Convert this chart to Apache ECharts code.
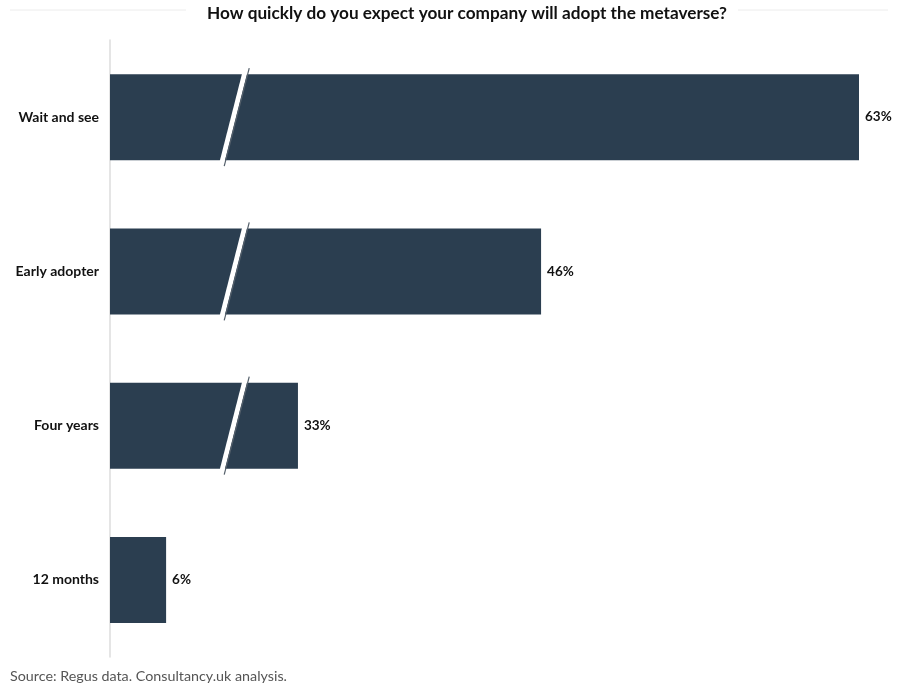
<!DOCTYPE html>
<html>
<head>
<meta charset="utf-8">
<script src="https://cdn.jsdelivr.net/npm/echarts@6/dist/echarts.min.js"></script>
<style>
html,body{margin:0;padding:0;background:#fff;}
#chart{width:900px;height:691px;}
</style>
</head>
<body>
<div id="chart"></div>
<script>
const TITLE = 'How quickly do you expect your company will adopt the metaverse?';
const SOURCE = 'Source: Regus data. Consultancy.uk analysis.';
const categories = ['Wait and see', 'Early adopter', 'Four years', '12 months'];
const values = [63, 46, 33, 6];
const AXIS_MIN = 3;
const AXIS_MAX = 63;
const BREAK_START = 9.6;
const BREAK_END = 29.55;

const BAR_COLOR = '#2b3e50';
const FONT = 'Lato';

const slashData = [];
values.forEach(function (v, i) { if (v > BREAK_END) slashData.push([BREAK_START, i]); });

const chart = echarts.init(document.getElementById('chart'), null, {renderer: 'canvas'});
chart.setOption({
  animation: false,
  backgroundColor: '#ffffff',
  title: {
    text: TITLE,
    left: 202,
    top: 0,
    textStyle: {fontFamily: FONT, fontWeight: 'bold', fontSize: 17.2, color: '#111'}
  },
  graphic: [
    {type: 'line', shape: {x1: 10, y1: 10, x2: 186, y2: 10}, style: {stroke: '#ececec', lineWidth: 1}},
    {type: 'line', shape: {x1: 738, y1: 10, x2: 888, y2: 10}, style: {stroke: '#ececec', lineWidth: 1}},
    {type: 'text', left: 10, top: 669, style: {text: SOURCE, fontFamily: FONT, fontSize: 14.3, fill: '#555'}}
  ],
  grid: {left: 110, right: 41, top: 40, bottom: 34, containLabel: false},
  xAxis: {
    type: 'value',
    min: AXIS_MIN,
    max: AXIS_MAX,
    breaks: [{start: BREAK_START, end: BREAK_END, gap: 0}],
    breakArea: {show: false},
    axisLine: {show: false},
    axisTick: {show: false},
    axisLabel: {show: false},
    splitLine: {show: false}
  },
  yAxis: {
    type: 'category',
    data: categories,
    inverse: true,
    axisLine: {show: true, lineStyle: {color: '#dcdcdc', width: 1.5}},
    axisTick: {show: false},
    axisLabel: {fontFamily: FONT, fontWeight: 'bold', fontSize: 14, color: '#111', margin: 11}
  },
  series: [
    {
      type: 'bar',
      data: values,
      barWidth: 86,
      clip: true,
      itemStyle: {color: BAR_COLOR},
      label: {
        show: true,
        position: 'right',
        distance: 6,
        formatter: '{c}%',
        fontFamily: FONT,
        fontWeight: 'bold',
        fontSize: 13.5,
        color: '#111'
      },
      z: 2
    },
    {
      type: 'custom',
      data: slashData,
      encode: {x: 0, y: 1},
      clip: false,
      z: 5,
      silent: true,
      renderItem: function (params, api) {
        const p = api.coord([api.value(0), api.value(1)]);
        const half = 86 / 2 + 6;
        const slope = 0.255;
        const w = 5;
        const xt = p[0] + half * slope, yt = p[1] - half;
        const xb = p[0] - half * slope, yb = p[1] + half;
        return {
          type: 'group',
          children: [
            {
              type: 'polygon',
              shape: {points: [[xt - w / 2, yt], [xt + w / 2, yt], [xb + w / 2, yb], [xb - w / 2, yb]]},
              style: {fill: '#ffffff'}
            },
            {
              type: 'line',
              shape: {x1: xt + w / 2 + 0.8, y1: yt, x2: xb + w / 2 + 0.8, y2: yb},
              style: {stroke: '#55606b', lineWidth: 1.2}
            }
          ]
        };
      }
    }
  ]
});
</script>
</body>
</html>
